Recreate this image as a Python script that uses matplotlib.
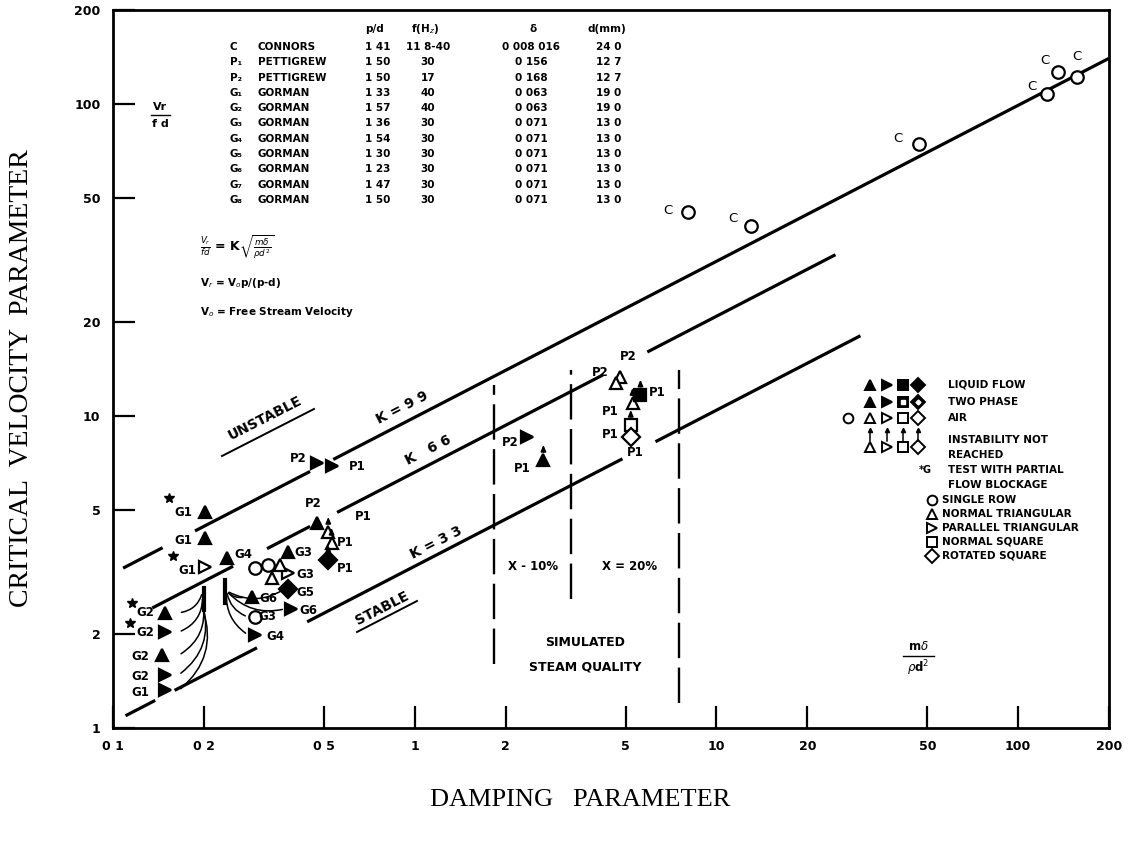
import numpy as np
import matplotlib.pyplot as plt
from matplotlib.lines import Line2D

# ---- data ----
k_values = [9.9, 6.6, 3.3]
# visible pieces of each stability line (damping parameter ranges)
k_segments = {
    9.9: [(0.108, 0.146), (0.187, 0.45), (0.537, 200)],
    6.6: [(0.135, 0.25), (0.324, 0.45), (0.553, 4.2), (5.9, 24.8)],
    3.3: [(0.110, 0.138), (0.160, 0.30), (0.44, 4.88), (6.28, 30)],
}

# Connors, single row (open circles)
connors_x = [8.07, 13.0, 46.8, 125, 136, 157]
connors_y = [45.1, 40.6, 74.5, 108, 127, 122]

# Pettigrew points: x, y, marker, filled, instability not reached
pett_x = [0.475, 0.533, 0.475, 0.517, 0.53, 0.517, 2.36, 2.67, 4.80, 4.64, 5.27, 5.6, 5.2, 5.2]
pett_y = [7.07, 6.92, 4.54, 4.25, 3.92, 3.45, 8.57, 7.23, 13.3, 12.8, 11.0, 11.7, 9.36, 8.57]
pett_m = ['>', '>', '^', '^', '^', 'D', '>', '^', '^', '^', '^', 's', 's', 'D']
pett_fill = [1, 1, 1, 0, 0, 1, 1, 1, 0, 0, 0, 1, 0, 0]
pett_arrow = [0, 0, 0, 1, 1, 1, 0, 1, 0, 0, 1, 1, 1, 0]

# Gorman points
gor_x = [0.202, 0.202, 0.202, 0.239, 0.149, 0.149, 0.145, 0.149, 0.149,
         0.380, 0.380, 0.380, 0.39, 0.289, 0.295, 0.295,
         0.327, 0.357, 0.296, 0.337]
gor_y = [4.92, 4.06, 3.28, 3.51, 2.34, 2.03, 1.71, 1.48, 1.32,
         3.67, 3.14, 2.79, 2.41, 2.63, 2.27, 1.99,
         3.33, 3.33, 3.26, 3.02]
gor_m = ['^', '^', '>', '^', '^', '>', '^', '>', '>',
         '^', '>', 'D', '>', '^', 'o', '>',
         'o', '^', 'o', '^']
gor_fill = [1, 1, 0, 1, 1, 1, 1, 1, 1,
            1, 0, 1, 1, 1, 0, 1,
            0, 0, 0, 0]

# partial flow blockage tests (asterisks)
star_x = [0.153, 0.158, 0.116, 0.114]
star_y = [5.46, 3.56, 2.52, 2.17]

x_ticks = [0.1, 0.2, 0.5, 1, 2, 5, 10, 20, 50, 100, 200]
x_tick_labels = ['0 1', '0 2', '0 5', '1', '2', '5', '10', '20', '50', '100', '200']
y_ticks = [1, 2, 5, 10, 20, 50, 100, 200]
y_tick_labels = ['1', '2', '5', '10', '20', '50', '100', '200']

steam_x = [1.83, 3.3, 7.5]
steam_y = [(1.6, 12.6), (2.6, 14.0), (1.2, 14.0)]

table_codes = ['C', 'P\u2081', 'P\u2082', 'G\u2081', 'G\u2082', 'G\u2083', 'G\u2084',
               'G\u2085', 'G\u2086', 'G\u2087', 'G\u2088']
table_names = ['CONNORS', 'PETTIGREW', 'PETTIGREW'] + ['GORMAN'] * 8
table_pd = ['1 41', '1 50', '1 50', '1 33', '1 57', '1 36', '1 54', '1 30', '1 23', '1 47', '1 50']
table_f = ['11 8-40', '30', '17', '40', '40', '30', '30', '30', '30', '30', '30']
table_delta = ['0 008 016', '0 156', '0 168', '0 063', '0 063', '0 071', '0 071',
               '0 071', '0 071', '0 071', '0 071']
table_d = ['24 0', '12 7', '12 7', '19 0', '19 0', '13 0', '13 0', '13 0', '13 0', '13 0', '13 0']

W, H = 1131, 857


def fp(x, y):
    # pixel position in the page -> figure fraction
    return x / W, 1 - y / H


fig = plt.figure(figsize=(W / 100, H / 100), dpi=100)
ax = fig.add_axes([113 / W, 1 - 728 / H, 996 / W, 718 / H])
ax.set_xscale('log')
ax.set_yscale('log')
ax.set_xlim(0.1, 200)
ax.set_ylim(1, 200)
for s in ax.spines.values():
    s.set_linewidth(2.0)

ax.set_xticks(x_ticks)
ax.set_xticklabels(x_tick_labels)
ax.set_yticks(y_ticks)
ax.set_yticklabels(y_tick_labels)
ax.minorticks_off()
ax.tick_params(direction='in', length=16, width=1.6, pad=9)
for lab in ax.get_xticklabels() + ax.get_yticklabels():
    lab.set_fontweight('bold')
    lab.set_fontsize(9)

# stability lines Vr/fd = K sqrt(m delta / rho d^2)
for k in k_values:
    for a, b in k_segments[k]:
        xs = np.array([a, b])
        ax.plot(xs, k * np.sqrt(xs), color='k', lw=2.3, solid_capstyle='butt')

# simulated steam quality boundaries
for xv, (y0, y1) in zip(steam_x, steam_y):
    ax.plot([xv, xv], [y0, y1], color='k', lw=1.7, dashes=[15, 4])

mk = dict(ms=9, mew=1.6, mec='k', ls='none')
ax.plot(connors_x, connors_y, marker='o', mfc='white', **mk)


def not_reached(x, y):
    ax.annotate('', xy=(x, y * 1.14), xytext=(x, y * 1.04),
                arrowprops=dict(arrowstyle='-|>,head_length=0.35,head_width=0.15',
                                lw=1.2, color='k'))


for x, y, m, f, a in zip(pett_x, pett_y, pett_m, pett_fill, pett_arrow):
    ax.plot([x], [y], marker=m, mfc='k' if f else 'white', **mk)
    if a:
        not_reached(x, y)

for x, y, m, f in zip(gor_x, gor_y, gor_m, gor_fill):
    ax.plot([x], [y], marker=m, mfc='k' if f else 'white', **mk)

ax.plot(star_x, star_y, marker='*', ms=7, color='k', ls='none')

# blockage leads (lower left cluster)
ax.plot([0.2, 0.2], [2.39, 2.81], color='k', lw=3)
for y in [2.34, 2.03, 1.71, 1.48, 1.32]:
    ax.annotate('', xy=(0.198, 2.42 + (y - 1.3) * 0.3), xytext=(0.165, y),
                arrowprops=dict(arrowstyle='-', lw=1.1, color='k',
                                connectionstyle='arc3,rad=0.35'))
ax.plot([0.235, 0.235], [2.52, 2.98], color='k', lw=3)
for x, y in [(0.37, 2.79), (0.372, 2.41), (0.28, 2.27), (0.28, 1.99), (0.275, 2.63)]:
    ax.annotate('', xy=(x, y), xytext=(0.238, 2.75),
                arrowprops=dict(arrowstyle='-', lw=1.1, color='k',
                                connectionstyle='arc3,rad=0.3'))

# ---- text ----
bold = dict(fontweight='bold', fontsize=7.5, color='k')


def t(x, y, s, **kw):
    opts = dict(ha='left', va='center')
    opts.update(bold)
    opts.update(kw)
    fig.text(*fp(x, y), s, **opts)


# table
t(375, 29, 'p/d', ha='center')
t(425, 29, 'f(H$_z$)', ha='center')
t(533, 29, '\u03b4', ha='center')
t(607, 29, 'd(mm)', ha='center')
for i in range(len(table_codes)):
    yy = 47 + i * 15.3
    t(230, yy, table_codes[i])
    t(258, yy, table_names[i])
    t(378, yy, table_pd[i], ha='center')
    t(428, yy, table_f[i], ha='center')
    t(531, yy, table_delta[i], ha='center')
    t(609, yy, table_d[i], ha='center')

t(160, 107, 'Vr', ha='center', fontsize=8)
t(160, 124, 'f d', ha='center', fontsize=8)
fig.add_artist(Line2D([151 / W, 170 / W], [1 - 115 / H, 1 - 115 / H], color='k', lw=1))

t(200, 247, r'$\frac{V_r}{fd}$ = K$\sqrt{\frac{m\delta}{\rho d^2}}$', fontsize=9)
t(200, 283, r'V$_r$ = V$_o$p/(p-d)')
t(200, 312, r'V$_o$ = Free Stream Velocity')

# rotated labels along the lines
rot = dict(rotation=27, rotation_mode='anchor', ha='center', va='center')
t(265, 418, 'UNSTABLE', fontsize=10, **rot)
t(382, 608, 'STABLE', fontsize=10, **rot)
t(402, 408, 'K = 9 9', fontsize=10, **rot)
t(428, 450, 'K   6 6', fontsize=10, **rot)
t(436, 543, 'K = 3 3', fontsize=10, **rot)
fig.add_artist(Line2D([222 / W, 314 / W], [1 - 456 / H, 1 - 409 / H], color='k', lw=1.4))
fig.add_artist(Line2D([357 / W, 417 / W], [1 - 632 / H, 1 - 601 / H], color='k', lw=1.4))

# point labels
pt_labels = [
    ('P2', 298, 458), ('P1', 357, 466), ('P2', 313, 503), ('P1', 363, 516),
    ('P1', 345, 542), ('P1', 345, 568), ('P2', 510, 443), ('P1', 522, 468),
    ('P2', 628, 357), ('P2', 600, 372), ('P1', 657, 392), ('P1', 610, 412),
    ('P1', 610, 435), ('P1', 635, 452),
    ('G1', 183, 513), ('G1', 183, 540), ('G1', 187, 571), ('G4', 243, 555),
    ('G2', 145, 613), ('G2', 145, 632), ('G2', 140, 657), ('G2', 140, 677),
    ('G1', 140, 692), ('G3', 303, 552), ('G3', 305, 575), ('G5', 305, 592),
    ('G6', 308, 611), ('G6', 268, 598), ('G3', 267, 617), ('G4', 275, 636),
]
for s, x, y in pt_labels:
    t(x, y, s, ha='center', fontsize=8.5)
for x, y in [(668, 210), (733, 218), (898, 138), (1032, 86), (1045, 61), (1077, 56)]:
    fig.text(*fp(x, y), 'C', ha='center', va='center', fontsize=9.5)

t(533, 566, 'X - 10%', ha='center', fontsize=8.5)
t(630, 566, 'X = 20%', ha='center', fontsize=8.5)
t(585, 643, 'SIMULATED', ha='center', fontsize=9)
t(585, 667, 'STEAM QUALITY', ha='center', fontsize=9)

t(918, 646, r'm$\delta$', ha='center', fontsize=8.5)
fig.add_artist(Line2D([903 / W, 934 / W], [1 - 656 / H, 1 - 656 / H], color='k', lw=1))
t(918, 668, r'$\rho$d$^2$', ha='center', fontsize=8.5)

# legend block


def lm(x, y, m, face, size=7, inner=False, arrow=False):
    fx, fy = fp(x, y)
    fig.add_artist(Line2D([fx], [fy], marker=m, ms=size, mfc=face, mec='k', mew=1.4))
    if inner:
        fig.add_artist(Line2D([fx], [fy], marker=m, ms=2.5, mfc='white', mec='white'))
    if arrow:
        fig.add_artist(Line2D([fx, fx], [fy + 6 / H, fy + 17 / H], color='k', lw=1.1))
        fig.add_artist(Line2D([fx], [fy + 17 / H], marker='^', ms=3, color='k'))


shapes = ['^', '>', 's', 'D']
xs_leg = [870, 887, 903, 918]
for x, m in zip(xs_leg, shapes):
    lm(x, 385, m, 'k')
    lm(x, 402, m, 'k', inner=m in ('s', 'D'))
    lm(x, 418, m, 'white')
    lm(x, 447, m, 'white', arrow=True)
lm(848, 418, 'o', 'white')
t(948, 385, 'LIQUID FLOW')
t(948, 402, 'TWO PHASE')
t(948, 418, 'AIR')
t(948, 440, 'INSTABILITY NOT')
t(948, 455, 'REACHED')
t(925, 470, '*G', ha='center', fontsize=7)
t(948, 470, 'TEST WITH PARTIAL')
t(948, 485, 'FLOW BLOCKAGE')
for y, m, s in [(500, 'o', 'SINGLE ROW'), (514, '^', 'NORMAL TRIANGULAR'),
                (528, '>', 'PARALLEL TRIANGULAR'), (542, 's', 'NORMAL SQUARE'),
                (556, 'D', 'ROTATED SQUARE')]:
    lm(932, y, m, 'white')
    t(942, y, s)

# axis titles
fig.text(*fp(22, 378), 'CRITICAL  VELOCITY  PARAMETER', rotation=90, ha='center',
         va='center', family='Liberation Serif', fontsize=20)
fig.text(*fp(580, 800), 'DAMPING   PARAMETER', ha='center', va='center',
         family='Liberation Serif', fontsize=19)

fig.savefig('out.png', dpi=100)
